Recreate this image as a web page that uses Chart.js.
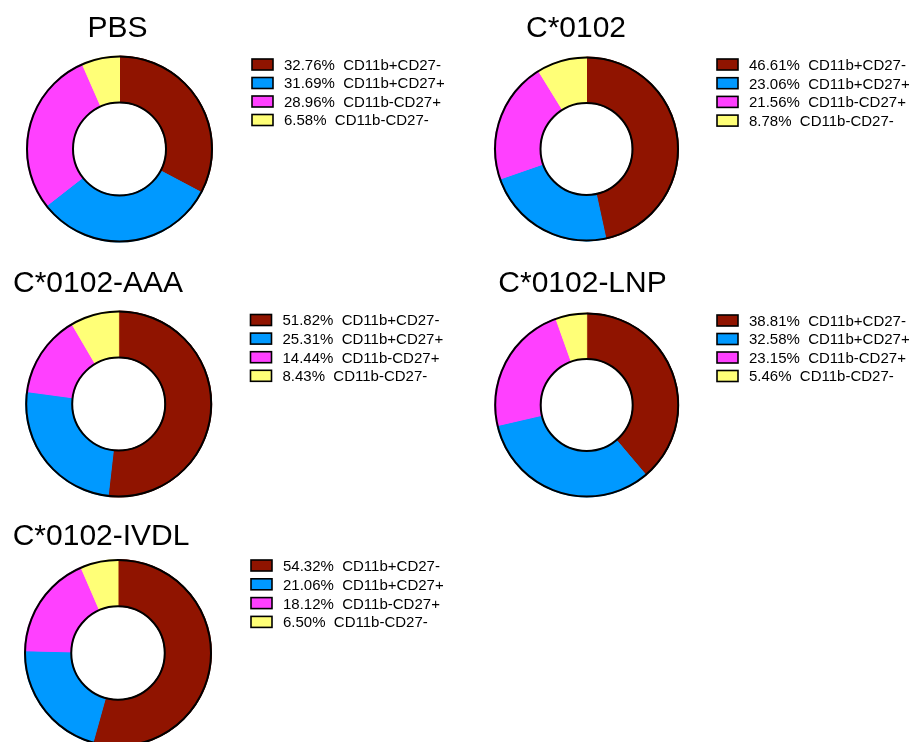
<!DOCTYPE html>
<html><head><meta charset="utf-8">
<script src="https://cdn.jsdelivr.net/npm/chart.js@4"></script>
<style>
html,body{margin:0;padding:0;overflow:hidden;background:#fff;width:912px;height:742px}
canvas{position:absolute;left:0;top:0}
</style></head>
<body>
<script>
// ---- data ----
const categories = ['CD11b+CD27-', 'CD11b+CD27+', 'CD11b-CD27+', 'CD11b-CD27-'];
const titles = ['PBS', 'C*0102', 'C*0102-AAA', 'C*0102-LNP', 'C*0102-IVDL'];
const pbsValues   = [32.76, 31.69, 28.96, 6.58];
const c0102Values = [46.61, 23.06, 21.56, 8.78];
const aaaValues   = [51.82, 25.31, 14.44, 8.43];
const lnpValues   = [38.81, 32.58, 23.15, 5.46];
const ivdlValues  = [54.32, 21.06, 18.12, 6.50];
const seriesValues = [pbsValues, c0102Values, aaaValues, lnpValues, ivdlValues];

// ---- styles / layout ----
const colors = ['#901400', '#0099FF', '#FF40FF', '#FFFF77'];
const FONT = '"Liberation Sans", Arial, Helvetica, sans-serif';
const W = 912, H = 760;
const layout = [
  {cx:119.5, cy:149,   r:93.5, tx:117.5, ty:37.3,  ta:'center', lx:252,   ly:64.5,  ldy:18.5},
  {cx:586.5, cy:149,   r:92.5, tx:576,   ty:37.3,  ta:'center', lx:717,   ly:64.5,  ldy:18.7},
  {cx:118.7, cy:404,   r:93.5, tx:13,    ty:292.3, ta:'left',   lx:250.5, ly:320,   ldy:18.6},
  {cx:586.7, cy:405,   r:92.5, tx:498.3, ty:292.3, ta:'left',   lx:717,   ly:320.5, ldy:18.5},
  {cx:118,   cy:653,   r:94,   tx:12.7,  ty:545,   ta:'left',   lx:251,   ly:565.5, ldy:18.8}
];

const decor = {
  id: 'decor',
  afterDatasetsDraw(chart, args, opts) {
    const ctx = chart.ctx;
    const arc = chart.getDatasetMeta(0).data[0];
    const p = arc.getProps(['x','y','outerRadius','innerRadius'], true);
    ctx.save();
    ctx.lineWidth = 2;
    ctx.strokeStyle = '#000';
    ctx.beginPath(); ctx.arc(p.x, p.y, p.outerRadius - 0.5, 0, Math.PI * 2); ctx.stroke();
    ctx.beginPath(); ctx.arc(p.x, p.y, p.innerRadius, 0, Math.PI * 2); ctx.stroke();
    ctx.restore();
  },
  afterDraw(chart, args, opts) {
    const ctx = chart.ctx;
    const L = opts.layout;
    ctx.save();
    ctx.fillStyle = '#000';
    ctx.font = '30px ' + FONT;
    ctx.textAlign = L.ta;
    ctx.textBaseline = 'alphabetic';
    ctx.fillText(opts.title, L.tx, L.ty);
    ctx.font = '15px ' + FONT;
    ctx.textAlign = 'left';
    const ds = chart.data.datasets[0];
    chart.data.labels.forEach((lab, i) => {
      const yc = L.ly + i * L.ldy;
      ctx.fillStyle = ds.backgroundColor[i];
      ctx.fillRect(L.lx, yc - 5.5, 21, 11);
      ctx.lineWidth = 1.6;
      ctx.strokeStyle = '#000';
      ctx.strokeRect(L.lx, yc - 5.5, 21, 11);
      ctx.fillStyle = '#000';
      ctx.fillText(ds.data[i].toFixed(2) + '%  ' + lab, L.lx + 32, yc + 5.4);
    });
    ctx.restore();
  }
};

seriesValues.forEach((vals, k) => {
  const L = layout[k];
  const cv = document.createElement('canvas');
  cv.width = W; cv.height = H;
  document.body.appendChild(cv);
  new Chart(cv, {
    type: 'doughnut',
    data: {
      labels: categories,
      datasets: [{
        data: vals,
        backgroundColor: colors,
        borderColor: colors,
        borderWidth: 1
      }]
    },
    options: {
      responsive: false,
      animation: false,
      cutout: '50%',
      layout: {padding: {left: L.cx - L.r, top: L.cy - L.r, right: W - L.cx - L.r, bottom: H - L.cy - L.r}},
      plugins: {
        legend: {display: false},
        tooltip: {enabled: false},
        decor: {title: titles[k], layout: L}
      }
    },
    plugins: [decor]
  });
});
</script>
</body></html>
